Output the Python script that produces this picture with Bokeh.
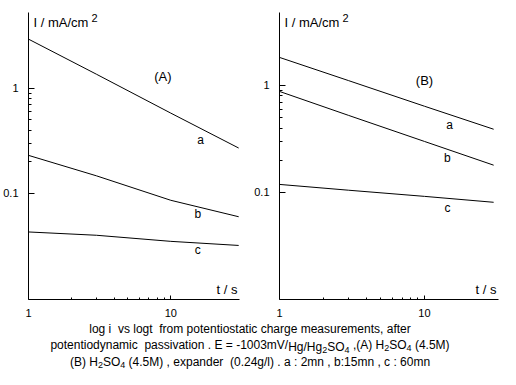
from bokeh.plotting import figure
from bokeh.models import FixedTicker, Label, Div, Range1d
from bokeh.layouts import row, column
from bokeh.embed import file_html
from bokeh.resources import INLINE

# ---- data ----
t = [1, 3, 10, 30]
A_a = [2.93, 1.36, 0.58, 0.27]
A_b = [0.23, 0.147, 0.086, 0.060]
A_c = [0.043, 0.040, 0.035, 0.032]
B_a = [1.83, 1.11, 0.64, 0.39]
B_b = [0.88, 0.525, 0.30, 0.18]
B_c = [0.119, 0.105, 0.092, 0.081]

y_ticks = [0.1, 1]
y_minor = [0.2, 0.3, 0.4, 0.5, 0.6, 0.7, 0.8, 0.9]
x_ticks = [1, 10]
x_minor = [2, 3, 4, 5, 6, 7, 8, 9]
tick_labels = {1: "1", 0.1: "0.1", 10: "10"}

FONT = "Liberation Sans"


def panel(series, letters, letter_pos, tag, tag_pos, x_end, y_range, width, height,
          border_left, border_right, border_top, border_bottom):
    p = figure(width=width, height=height, x_axis_type="log", y_axis_type="log",
               x_range=Range1d(1, x_end), y_range=Range1d(*y_range),
               output_backend="svg", toolbar_location=None,
               min_border_left=border_left, min_border_right=border_right,
               min_border_top=border_top, min_border_bottom=border_bottom)
    p.outline_line_color = None
    p.grid.visible = False
    p.background_fill_color = None
    p.border_fill_color = "white"
    for ax in (p.xaxis[0], p.yaxis[0]):
        ax.axis_line_color = "black"
        ax.axis_line_width = 1
        ax.major_tick_out = 0
        ax.minor_tick_out = 0
        ax.major_tick_line_color = "black"
        ax.minor_tick_line_color = "black"
        ax.major_tick_line_width = 1
        ax.minor_tick_line_width = 1
        ax.major_label_text_font = FONT
        ax.major_label_text_font_size = "11px"
        ax.major_label_text_color = "black"
        ax.major_label_overrides = tick_labels
    p.yaxis[0].major_tick_in = 6
    p.yaxis[0].minor_tick_in = 3
    p.xaxis[0].major_tick_in = 4
    p.xaxis[0].minor_tick_in = 2
    p.yaxis[0].ticker = FixedTicker(ticks=y_ticks, minor_ticks=y_minor)
    p.xaxis[0].ticker = FixedTicker(ticks=x_ticks, minor_ticks=x_minor)
    p.yaxis[0].major_label_standoff = 10
    p.xaxis[0].major_label_standoff = 9

    for ys in series:
        p.line(t, ys, line_color="black", line_width=1)
    for s, (lx, ly) in zip(letters, letter_pos):
        p.add_layout(Label(x=lx, y=ly, text=s, text_align="center", text_baseline="middle",
                           text_font=FONT, text_font_size="12px", text_color="black"))
    p.add_layout(Label(x=tag_pos[0], y=tag_pos[1], text=tag, text_align="center",
                       text_baseline="middle", text_font=FONT, text_font_size="13px",
                       text_color="black"))
    p.add_layout(Label(x=1, y=y_range[1], x_offset=5, y_offset=-10, text="I / mA/cm",
                       text_align="left", text_baseline="alphabetic", text_font=FONT,
                       text_font_size="13px", text_color="black"))
    p.add_layout(Label(x=1, y=y_range[1], x_offset=63, y_offset=-5, text="2",
                       text_align="left", text_baseline="alphabetic", text_font=FONT,
                       text_font_size="11px", text_color="black"))
    p.add_layout(Label(x=x_end, y=y_range[0], x_offset=-2, y_offset=3, text="t / s",
                       text_align="right", text_baseline="bottom", text_font=FONT,
                       text_font_size="13px", text_color="black"))
    return p


pA = panel([A_a, A_b, A_c], ["a", "b", "c"], [(16.2, 0.32), (15.5, 0.064), (15.5, 0.029)],
           "(A)", (8.8, 1.29), 30.4, (0.0098, 5.25), 250, 321, 27, 11, 7, 22)
pB = panel([B_a, B_b, B_c], ["a", "b", "c"], [(14.9, 0.43), (14.4, 0.21), (14.4, 0.072)],
           "(B)", (10.0, 1.12), 32.4, (0.0100, 4.81), 250, 321, 29, 2, 12, 22)

SUB = "<span style='position:relative;top:2px;font-size:9px'>{}</span>"
caption = Div(
    text=("log i&nbsp; vs logt&nbsp; from potentiostatic charge measurements, after<br>"
          "potentiodynamic&nbsp; passivation . E = -1003mV/<span style='position:relative;top:2px'>Hg/Hg"
          + SUB.format("2") + "SO" + SUB.format("4") + "</span> ,(A) H" + SUB.format("2") + "SO"
          + SUB.format("4") + " (4.5M)<br>"
          "(B) H" + SUB.format("2") + "SO" + SUB.format("4") + " (4.5M) , expander&nbsp; "
          "(0.24g/l) . a : 2mn , b:15mn , c : 60mn"),
    width=500, height=48, margin=0,
    styles={"text-align": "center", "font-family": FONT, "font-size": "12px",
            "line-height": "16px", "color": "black", "width": "500px"})

layout = column(row(pA, pB), caption)
open("out.html", "w").write(file_html(layout, INLINE))
